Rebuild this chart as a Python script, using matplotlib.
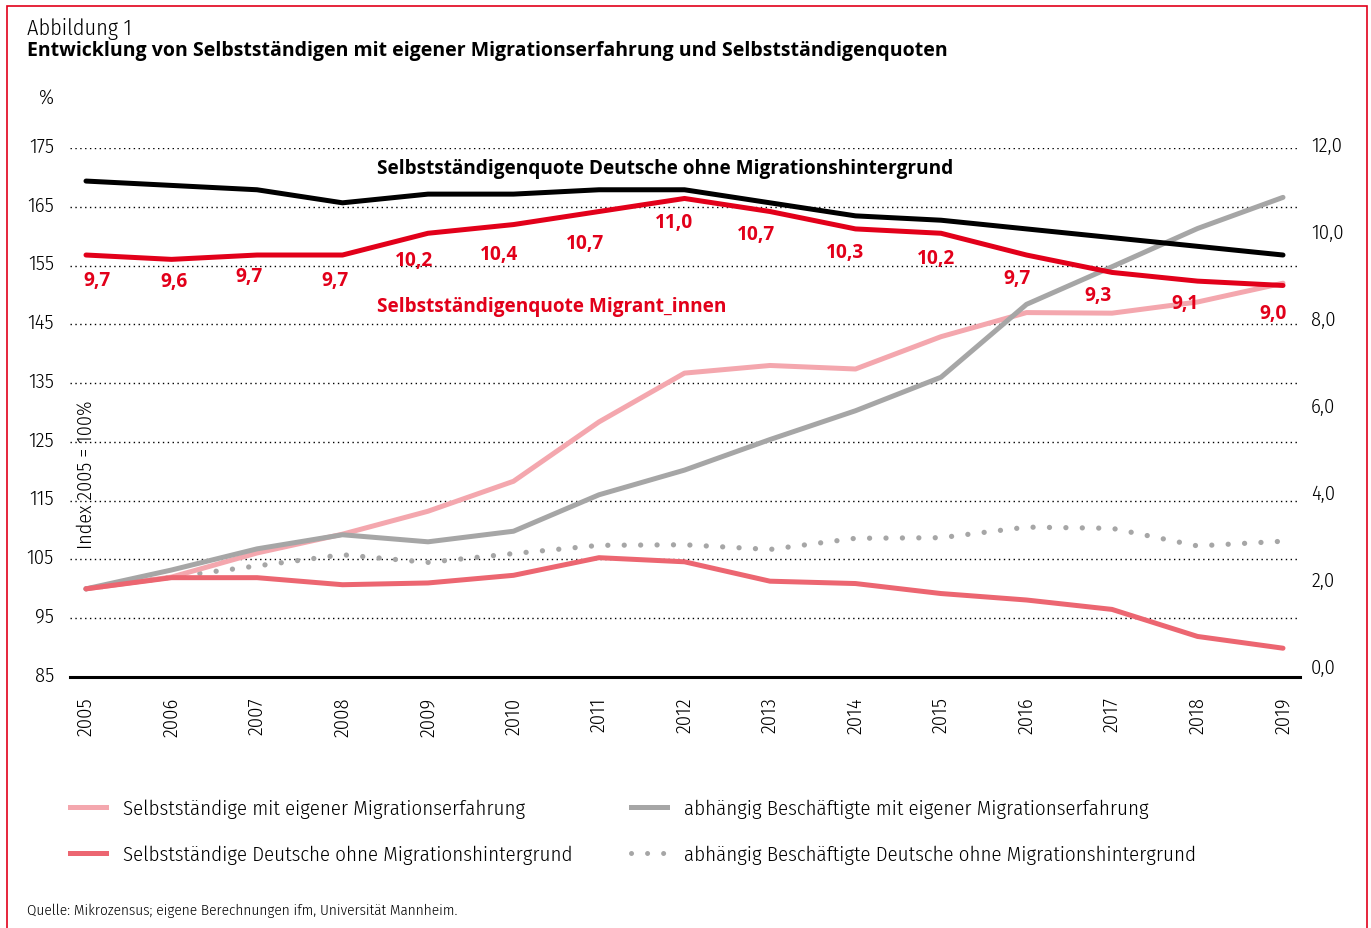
import matplotlib
matplotlib.use("Agg")
import matplotlib.pyplot as plt
from matplotlib.lines import Line2D
from matplotlib.patches import Rectangle
from matplotlib.transforms import ScaledTranslation

# Daten
years = list(range(2005, 2020))

# Index 2005 = 100
selbst_migration = [100.0, 102.0, 106.1, 109.3, 113.2, 118.3, 128.4, 136.7, 138.0, 137.4, 142.9, 147.0, 146.9, 148.8, 152.0]
selbst_deutsche = [100.0, 101.9, 101.9, 100.7, 101.0, 102.3, 105.3, 104.6, 101.3, 100.9, 99.2, 98.1, 96.5, 91.9, 89.9]
abh_migration = [100.0, 103.2, 106.8, 109.2, 108.0, 109.8, 116.0, 120.2, 125.4, 130.3, 136.0, 148.4, 154.8, 161.3, 166.6]
abh_deutsche = [100.0, 102.0, 103.9, 105.8, 104.5, 106.0, 107.4, 107.5, 106.7, 108.6, 108.7, 110.5, 110.3, 107.3, 108.1]

# Selbstständigenquoten in %
quote_deutsche = [11.4, 11.3, 11.2, 10.9, 11.1, 11.1, 11.2, 11.2, 10.9, 10.6, 10.5, 10.3, 10.1, 9.9, 9.7]
quote_migranten = [9.7, 9.6, 9.7, 9.7, 10.2, 10.4, 10.7, 11.0, 10.7, 10.3, 10.2, 9.7, 9.3, 9.1, 9.0]

left_ticks = list(range(85, 176, 10))
right_ticks = [0, 2, 4, 6, 8, 10, 12]
right_labels = ["0,0", "2,0", "4,0", "6,0", "8,0", "10,0", "12,0"]

legend_labels = [
    "Selbstständige mit eigener Migrationserfahrung",
    "Selbstständige Deutsche ohne Migrationshintergrund",
    "abhängig Beschäftigte mit eigener Migrationserfahrung",
    "abhängig Beschäftigte Deutsche ohne Migrationshintergrund",
]

# label offsets in px (relative to point)
label_dx = [11, 2, -8, -8, -14, -14, -14, -10, -14, -10, -5, -10, -14, -13, -10]
label_dy = [25, 22, 21, 25, 27, 29, 31, 24, 22, 23, 25, 23, 23, 22, 28]

# Farben
c_pink = "#f4a7ae"
c_rose = "#ec6671"
c_grey = "#a6a6a6"
c_red = "#e2001a"

bold = ["Open Sans", "DejaVu Sans"]
plt.rcParams["font.family"] = ["Fira Sans Condensed", "DejaVu Sans"]
plt.rcParams["font.weight"] = 300

W, H = 1371, 929
fig = plt.figure(figsize=(W / 100, H / 100), dpi=100)
ax = fig.add_axes([70 / W, 1 - 678 / H, 1230 / W, 529 / H])
ax2 = ax.twinx()

ax.set_xlim(2005 - 16 / 85.5, 2019 + 17 / 85.5)
ax.set_ylim(85, 175)
ax.set_yticks(left_ticks)
ax.set_xticks(years)
ax.set_xticklabels([str(y) for y in years], rotation=90)
ax.tick_params(axis="both", length=0, labelsize=14.8)
ax.tick_params(axis="y", pad=11.5)
ax.tick_params(axis="x", pad=14)
for s in ["top", "left", "right"]:
    ax.spines[s].set_visible(False)
ax.spines["bottom"].set_linewidth(2.2)
ax.spines["bottom"].set_color("black")

for v in left_ticks[1:]:
    ax.axhline(v, color="black", lw=1.0, linestyle=(0, (1, 2.5)), zorder=0)

# Index-Linien
ax.plot(years, selbst_migration, color=c_pink, lw=3.6, solid_capstyle="round", zorder=3)
ax.plot(years, abh_migration, color=c_grey, lw=3.6, solid_capstyle="round", zorder=3)
ax.plot(years, abh_deutsche, color=c_grey, lw=3.8, linestyle=(0, (0.01, 3.1)),
        dash_capstyle="round", zorder=2)
ax.plot(years, selbst_deutsche, color=c_rose, lw=3.6, solid_capstyle="round", zorder=3)

# Quoten auf rechter Achse
ax2.set_ylim(0.16, 12.16)
ax2.set_yticks(right_ticks)
ax2.set_yticklabels(right_labels)
ax2.tick_params(axis="y", length=0, labelsize=14.8, pad=8)
for s in ax2.spines.values():
    s.set_visible(False)

ax2.plot(years, quote_deutsche, color="black", lw=3.6, solid_capstyle="round")
ax2.plot(years, quote_migranten, color=c_red, lw=3.6, solid_capstyle="round")

for yr, q, dx, dy in zip(years, quote_migranten, label_dx, label_dy):
    ax2.annotate(f"{q:.1f}".replace(".", ","), (yr, q), xytext=(dx * 0.72, -dy * 0.72),
                 textcoords="offset points", ha="center", va="center",
                 color=c_red, fontweight="bold", fontsize=13.8, family=bold)

# Tick-Labels leicht nach oben
for lab in ax.get_yticklabels():
    lab.set_transform(lab.get_transform() + ScaledTranslation(0, 4 / 100, fig.dpi_scale_trans))
for lab in ax2.get_yticklabels():
    lab.set_transform(lab.get_transform() + ScaledTranslation(0, 11.5 / 100, fig.dpi_scale_trans))

# Beschriftungen
fig.text(377 / W, 1 - 169 / H, "Selbstständigenquote Deutsche ohne Migrationshintergrund",
         fontsize=13.7, fontweight="bold", family=bold, va="center", ha="left")
fig.text(377 / W, 1 - 307 / H, "Selbstständigenquote Migrant_innen",
         fontsize=13.7, fontweight="bold", family=bold, color=c_red, va="center", ha="left")

fig.text(27 / W, 1 - 29 / H, "Abbildung 1", fontsize=16, va="center", ha="left")
fig.text(27 / W, 1 - 51 / H,
         "Entwicklung von Selbstständigen mit eigener Migrationserfahrung und Selbstständigenquoten",
         fontsize=14, fontweight="bold", family=bold, va="center", ha="left")
fig.text(47 / W, 1 - 98 / H, "%", fontsize=15, va="center", ha="center")
fig.text(86 / W, 1 - 475 / H, "Index 2005 = 100%", fontsize=14.5, rotation=90,
         va="center", ha="center")
fig.text(27 / W, 1 - 911 / H, "Quelle: Mikrozensus; eigene Berechnungen ifm, Universität Mannheim.",
         fontsize=10.9, va="center", ha="left")

# Legende
h_pink = Line2D([], [], color=c_pink, lw=3.6)
h_rose = Line2D([], [], color=c_rose, lw=3.6)
h_grey = Line2D([], [], color=c_grey, lw=3.6)
h_dot = Line2D([], [], color=c_grey, lw=3.6, linestyle=(0, (0.01, 3.2)), dash_capstyle="round")

leg_fs = 15
leg_kw = dict(frameon=False, fontsize=leg_fs, handlelength=26 / leg_fs, handletextpad=12 / leg_fs,
              labelspacing=1.25, borderpad=0, borderaxespad=0, loc="upper left")
leg1 = fig.legend([h_pink, h_rose], legend_labels[:2], bbox_to_anchor=(70 / W, 1 - 800 / H), **leg_kw)
leg2 = fig.legend([h_grey, h_dot], legend_labels[2:], bbox_to_anchor=(631 / W, 1 - 800 / H), **leg_kw)

# roter Rahmen
fig.add_artist(Rectangle((7 / W, -0.05), (1367 - 7) / W, 1 - 7 / H + 0.05,
                         transform=fig.transFigure, fill=False, edgecolor=c_red, lw=1.2))

fig.savefig("out.png", dpi=100)
